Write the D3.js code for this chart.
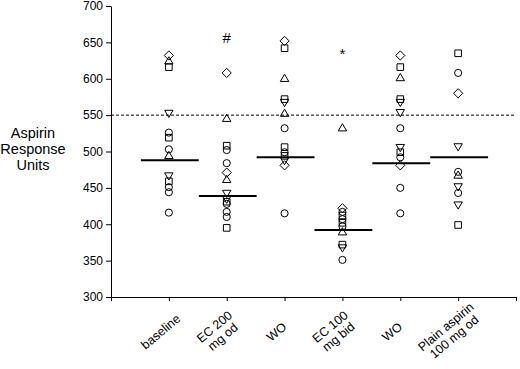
<!DOCTYPE html>
<html>
<head>
    <title>Aspirin Response Units</title>
    <script src="https://d3js.org/d3.v7.min.js"></script>
    <style>
        body { margin: 0; background: #ffffff; }
        svg { font-family: "Liberation Sans", Arial, sans-serif; }
        .axis path, .axis line { stroke: #000; stroke-width: 1px; }
        .axis text { font-size: 12px; fill: #000; }
    </style>
</head>
<body>
<div id="chart"></div>
<script>
    // categories (two-line labels)
    const categories = [
        ["baseline"],
        ["EC 200", "mg od"],
        ["WO"],
        ["EC 100", "mg bid"],
        ["WO"],
        ["Plain aspirin", "100 mg od"]
    ];

    // [value, marker] for each subject in each period
    const baseline = [[632, "diamond"], [625, "triUp"], [616, "square"], [552, "triDown"], [526, "circle"],
        [519, "square"], [503, "circle"], [495, "triUp"], [466, "triDown"], [459, "square"],
        [451, "circle"], [444, "circle"], [416, "circle"]];
    const ec200 = [[608, "diamond"], [546, "triUp"], [508, "square"], [502, "circle"], [484, "circle"],
        [471, "diamond"], [462, "triUp"], [442, "triDown"], [434, "triDown"], [431, "square"],
        [428, "circle"], [417, "circle"], [410, "circle"], [395, "square"]];
    const wo1 = [[652, "diamond"], [642, "square"], [601, "triUp"], [572, "square"], [567, "triDown"],
        [553, "triUp"], [532, "circle"], [506, "square"], [499, "circle"], [494, "square"],
        [487, "triDown"], [481, "diamond"], [415, "circle"]];
    const ec100 = [[533, "triUp"], [422, "diamond"], [417, "circle"], [412, "square"], [407, "circle"],
        [402, "square"], [397, "circle"], [390, "triUp"], [372, "square"], [367, "triDown"],
        [351, "circle"]];
    const wo2 = [[632, "diamond"], [616, "square"], [602, "triUp"], [572, "square"], [567, "triDown"],
        [553, "triDown"], [532, "circle"], [505, "triDown"], [499, "square"], [492, "circle"],
        [481, "diamond"], [450, "circle"], [415, "circle"]];
    const plain = [[635, "square"], [608, "circle"], [580, "diamond"], [506, "triDown"], [472, "circle"],
        [468, "triUp"], [451, "triDown"], [443, "circle"], [426, "triDown"], [399, "square"]];

    const groups = [baseline, ec200, wo1, ec100, wo2, plain];
    const means = [488, 439, 492, 392, 484, 492];
    const marks = [{ group: 1, value: 656, text: "#" }, { group: 3, value: 634, text: "*" }];
    const threshold = 550;
    const yTicks = [300, 350, 400, 450, 500, 550, 600, 650, 700];

    const width = 520, height = 369;
    const svg = d3.select("#chart").append("svg")
        .attr("width", width)
        .attr("height", height);

    const x = d3.scaleLinear().domain([0, categories.length + 1]).range([111, 516]);
    const y = d3.scaleLinear().domain([300, 700]).range([297, 6]);

    // axes
    svg.append("g")
        .attr("class", "axis")
        .attr("transform", `translate(${x(0)},0)`)
        .call(d3.axisLeft(y).tickValues(yTicks).tickSize(5).tickSizeOuter(0).tickPadding(3));

    svg.append("g")
        .attr("class", "axis")
        .attr("transform", `translate(0,${y(300)})`)
        .call(d3.axisBottom(x).tickValues(d3.range(0, categories.length + 2)).tickFormat("").tickSize(4).tickSizeOuter(0));

    // threshold line
    svg.append("line")
        .attr("x1", x(0)).attr("x2", x(categories.length + 1))
        .attr("y1", y(threshold)).attr("y2", y(threshold))
        .attr("stroke", "#000")
        .attr("stroke-width", 1)
        .attr("stroke-dasharray", "3,2");

    // marker shapes
    function shapePath(type) {
        if (type === "circle") return d3.symbol(d3.symbolCircle, 40)();
        if (type === "square") return "M-3.3,-3.3H3.3V3.3H-3.3Z";
        if (type === "diamond") return "M0,-4.6L4.6,0L0,4.6L-4.6,0Z";
        if (type === "triUp") return "M0,-3.8L4.2,3.4H-4.2Z";
        if (type === "triDown") return "M0,3.8L4.2,-3.4H-4.2Z";
    }

    groups.forEach((g, i) => {
        svg.append("g").selectAll("path")
            .data(g)
            .enter()
            .append("path")
            .attr("transform", d => `translate(${x(i + 1)},${y(d[0])})`)
            .attr("d", d => shapePath(d[1]))
            .attr("fill", "none")
            .attr("stroke", "#000")
            .attr("stroke-width", 1);
    });

    // mean lines
    const half = (x(1) - x(0)) / 2;
    svg.append("g").selectAll("line")
        .data(means)
        .enter()
        .append("line")
        .attr("x1", (d, i) => x(i + 1) - half + 1)
        .attr("x2", (d, i) => x(i + 1) + half + 1)
        .attr("y1", d => y(d))
        .attr("y2", d => y(d))
        .attr("stroke", "#000")
        .attr("stroke-width", 2);

    // significance marks
    svg.selectAll(".sig")
        .data(marks)
        .enter()
        .append("text")
        .attr("class", "sig")
        .attr("x", d => x(d.group + 1))
        .attr("y", d => y(d.value) + 5)
        .attr("text-anchor", "middle")
        .style("font-size", "15px")
        .text(d => d.text);

    // category labels, rotated about their centre
    categories.forEach((lines, i) => {
        const g = svg.append("g")
            .attr("transform", `translate(${x(i + 1) - 8},${y(300) + 35}) rotate(-40)`);
        const off = (lines.length - 1) * 13 / 2;
        g.selectAll("text")
            .data(lines)
            .enter()
            .append("text")
            .attr("text-anchor", "middle")
            .attr("y", (d, j) => j * 13 - off + 4)
            .style("font-size", "12.5px")
            .text(d => d);
    });

    // y axis title
    svg.append("text")
        .attr("x", 33)
        .attr("y", 138)
        .attr("text-anchor", "middle")
        .style("font-size", "14.5px")
        .selectAll("tspan")
        .data(["Aspirin", "Response", "Units"])
        .enter()
        .append("tspan")
        .attr("x", 33)
        .attr("dy", (d, i) => i === 0 ? 0 : 16)
        .text(d => d);
</script>
</body>
</html>
